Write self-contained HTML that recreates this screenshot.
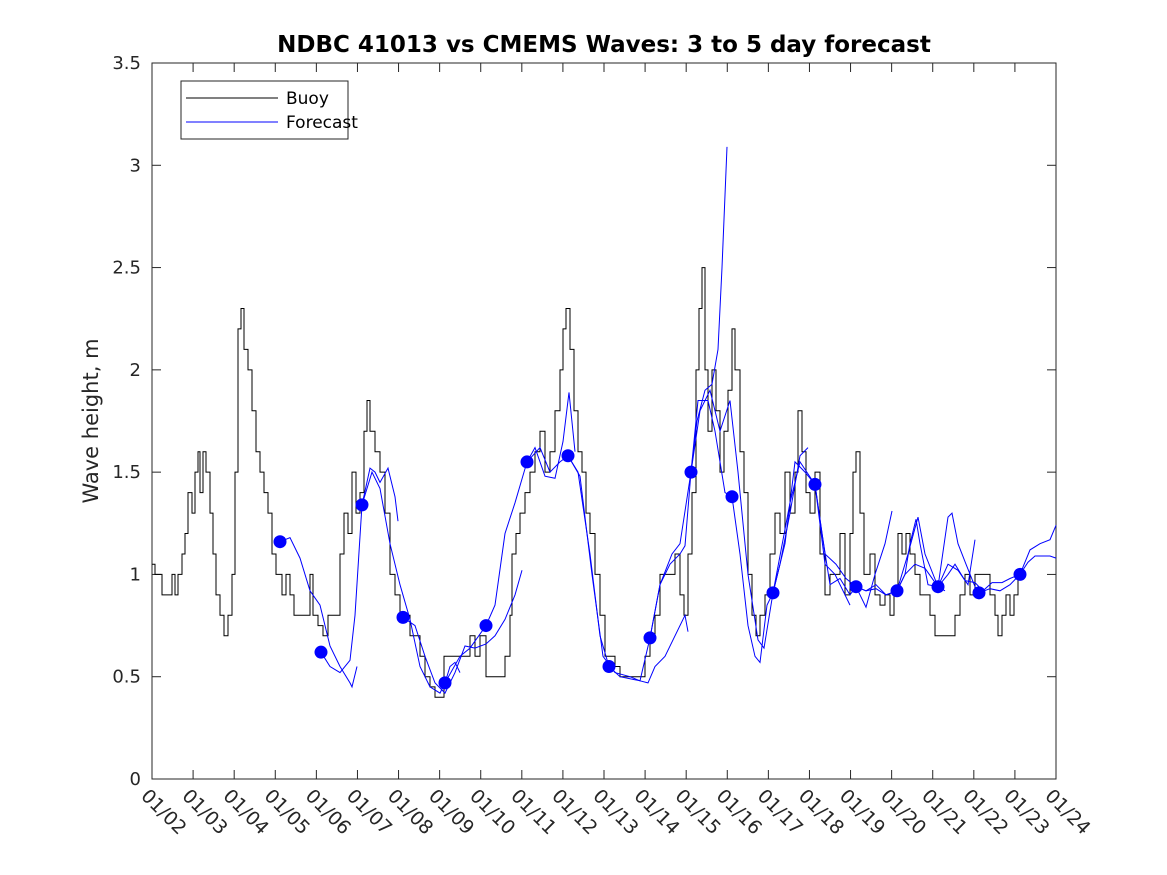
<!DOCTYPE html>
<html><head><meta charset="utf-8"><style>
body{margin:0;background:#fff;}
svg{display:block;font-family:"DejaVu Sans","Liberation Sans",sans-serif;}
</style></head><body>
<svg id="s" width="1167" height="875" xmlns="http://www.w3.org/2000/svg">
<rect width="1167" height="875" fill="#fff"/>
<rect x="152" y="63" width="904" height="716" fill="#fff" stroke="#262626" stroke-width="1"/>
<g id="ticks" stroke="#262626" stroke-width="1"></g>
<g id="labels" fill="#262626" font-size="18"></g>
<text x="604" y="52" text-anchor="middle" font-size="23" font-weight="bold" fill="#000">NDBC 41013 vs CMEMS Waves: 3 to 5 day forecast</text>
<text transform="translate(98,421) rotate(-90)" text-anchor="middle" font-size="21" fill="#262626">Wave height, m</text>
<g id="data"></g>
<rect x="181" y="81" width="167" height="58" fill="#fff" stroke="#262626" stroke-width="1"/>
<line x1="186" y1="98" x2="278" y2="98" stroke="#000"/>
<line x1="186" y1="122" x2="278" y2="122" stroke="#0000ff"/>
<text x="286" y="104" font-size="17" fill="#000">Buoy</text>
<text x="286" y="128" font-size="17" fill="#000">Forecast</text>
</svg>
<script>
const NS="http://www.w3.org/2000/svg";
const Y=v=>779-v*204.571;
const t=document.getElementById('ticks'),L=document.getElementById('labels'),D=document.getElementById('data');
function el(tag,a,p,txt){const e=document.createElementNS(NS,tag);for(const k in a)e.setAttribute(k,a[k]);if(txt!==undefined)e.textContent=txt;p.appendChild(e);return e;}
for(let i=0;i<=7;i++){const y=Y(i*0.5);
 el('line',{x1:152,y1:y,x2:161,y2:y},t);el('line',{x1:1056,y1:y,x2:1047,y2:y},t);
 el('text',{x:141,y:y+6,'text-anchor':'end'},L,String(i*0.5));}
for(let d=0;d<=22;d++){const x=152+d*904/22;
 el('line',{x1:x,y1:779,x2:x,y2:770},t);el('line',{x1:x,y1:63,x2:x,y2:72},t);
 el('text',{transform:`translate(${x-12},797) rotate(45)`,'font-size':19},L,'01/'+String(d+2).padStart(2,'0'));}
const buoy=[152,1.05,155,1.0,160,1.0,162,0.9,170,0.9,172,1.0,175,0.9,178,1.0,182,1.1,185,1.2,188,1.4,192,1.3,195,1.5,198,1.6,200,1.4,203,1.6,206,1.5,210,1.3,213,1.1,216,0.9,220,0.8,224,0.7,228,0.8,232,1.0,235,1.5,238,2.2,241,2.3,244,2.1,248,2.0,252,1.8,256,1.6,260,1.5,264,1.4,268,1.3,272,1.1,276,1.0,282,0.9,286,1.0,290,0.9,294,0.8,300,0.8,306,0.8,310,1.0,313,0.8,318,0.75,323,0.7,328,0.8,336,0.8,340,1.1,344,1.3,348,1.2,352,1.5,356,1.3,360,1.4,364,1.7,367,1.85,370,1.7,375,1.6,380,1.5,385,1.3,390,1.0,395,0.9,400,0.8,405,0.8,410,0.7,415,0.7,420,0.6,425,0.5,430,0.45,435,0.4,440,0.4,444,0.6,455,0.6,465,0.6,470,0.7,475,0.6,480,0.7,486,0.5,500,0.5,505,0.6,510,0.8,512,1.1,516,1.2,520,1.3,525,1.4,530,1.5,535,1.6,540,1.7,545,1.5,550,1.6,555,1.8,560,2.0,563,2.2,566,2.3,570,2.1,574,1.8,578,1.6,582,1.5,586,1.3,590,1.2,595,1.0,600,0.8,605,0.6,610,0.6,615,0.55,620,0.5,630,0.5,640,0.5,645,0.6,650,0.7,655,0.8,660,1.0,670,1.0,675,1.1,680,0.9,684,0.8,688,1.1,692,1.4,696,2.0,699,2.3,702,2.5,705,2.0,708,1.7,712,2.0,716,1.8,720,1.5,724,1.7,728,1.9,732,2.2,735,2.0,740,1.6,744,1.4,748,1.0,752,0.8,756,0.7,760,0.8,765,0.9,770,1.1,775,1.3,780,1.2,785,1.5,790,1.3,795,1.5,798,1.8,802,1.6,806,1.4,810,1.3,815,1.5,820,1.1,825,0.9,830,1.0,836,1.0,840,1.2,845,0.9,850,1.2,853,1.5,856,1.6,860,1.3,864,1.0,870,1.1,875,0.9,880,0.85,885,0.9,890,0.8,894,0.9,898,1.2,902,1.1,906,1.2,910,1.1,915,1.0,920,0.9,930,0.8,935,0.7,950,0.7,955,0.8,960,0.9,965,1.0,970,0.9,975,1.0,985,1.0,990,0.9,995,0.8,998,0.7,1002,0.8,1006,0.9,1010,0.8,1014,0.9,1018,1.0,1022,1.0];
let p='M'+buoy[0]+' '+Y(buoy[1]);
for(let i=2;i<buoy.length;i+=2){p+=' H'+buoy[i]+' V'+Y(buoy[i+1]).toFixed(1);}
el('path',{d:p,fill:'none',stroke:'#000','stroke-width':1},D);
const segs=[
[280,1.16,290,1.18,300,1.08,310,0.92,320,0.85,330,0.65,340,0.55,350,0.47,352,0.45,357,0.55],
[321,0.62,330,0.55,340,0.52,350,0.58,355,0.8,362,1.34,370,1.52,375,1.5,380,1.45,388,1.52,395,1.38,398,1.26],
[362,1.34,372,1.5,380,1.42,390,1.15,400,0.95,410,0.78,420,0.55,430,0.45,440,0.42,445,0.47,450,0.55,455,0.57,460,0.52],
[403,0.79,415,0.75,425,0.6,435,0.47,445,0.42,455,0.52,465,0.65,475,0.64,486,0.66,495,0.7,505,0.78,515,0.9,522,1.02],
[445,0.47,460,0.6,470,0.64,486,0.75,495,0.85,505,1.2,515,1.35,527,1.55,535,1.62,545,1.48,555,1.47,563,1.65,569,1.89,575,1.6],
[527,1.55,540,1.62,550,1.5,560,1.55,568,1.58,578,1.5,590,1.1,600,0.7,609,0.55,620,0.5,630,0.49,640,0.48,648,0.47,655,0.55,665,0.6,675,0.7,685,0.8,688,0.72],
[568,1.58,580,1.48,592,1.0,603,0.6,615,0.52,630,0.5,640,0.48,650,0.69,660,0.95,670,1.05,680,1.1,685,1.14,691,1.5,697,1.75,705,1.9,712,1.93,718,2.1,722,2.5,727,3.09],
[650,0.69,660,0.95,672,1.1,680,1.15,691,1.5,698,1.85,708,1.85,715,1.7,725,1.4,732,1.38,740,1.1,748,0.75,755,0.6,760,0.57,767,0.85,773,0.91,780,1.05,790,1.3,800,1.58,808,1.62],
[691,1.5,700,1.8,710,1.9,720,1.7,730,1.85,738,1.5,748,1.0,758,0.68,764,0.64,773,0.91,785,1.15,795,1.55,805,1.5,815,1.44,825,1.05,835,1.0,845,0.9,850,0.85],
[773,0.91,790,1.35,800,1.55,815,1.44,822,1.2,830,0.95,840,0.98,850,0.9,856,0.94,866,0.84,875,1.0,885,1.15,892,1.31],
[815,1.44,825,1.1,836,1.05,846,0.98,856,0.94,866,0.92,876,0.93,886,0.9,897,0.92,905,1.0,910,1.15,916,1.27,920,1.15,928,0.95,938,0.94,945,0.92],
[856,0.94,866,0.92,876,0.95,886,0.9,897,0.92,905,1.0,915,1.05,925,1.03,938,0.94,948,1.05,958,1.02,968,0.95,975,1.17],
[897,0.92,908,1.1,918,1.28,925,1.1,938,0.94,948,1.0,955,1.05,965,0.97,975,0.96,983,0.92,992,0.96,1002,0.96,1010,0.98,1020,1.0,1028,1.06,1035,1.09,1050,1.09,1056,1.08],
[938,0.94,948,1.28,952,1.3,958,1.15,966,1.05,975,0.94,979,0.91,990,0.93,1000,0.92,1010,0.95,1020,1.0,1030,1.12,1040,1.15,1050,1.17,1056,1.24]];
for(const s of segs){let q='';for(let i=0;i<s.length;i+=2)q+=s[i]+','+Y(s[i+1]).toFixed(1)+' ';
 el('polyline',{points:q,fill:'none',stroke:'#0000ff','stroke-width':1},D);}
const dots=[280,1.16,321,0.62,362,1.34,403,0.79,445,0.47,486,0.75,527,1.55,568,1.58,609,0.55,650,0.69,691,1.50,732,1.38,773,0.91,815,1.44,856,0.94,897,0.92,938,0.94,979,0.91,1020,1.00];
for(let i=0;i<dots.length;i+=2)el('circle',{cx:dots[i],cy:Y(dots[i+1]),r:6.5,fill:'#0000ff'},D);
</script>
</body></html>
